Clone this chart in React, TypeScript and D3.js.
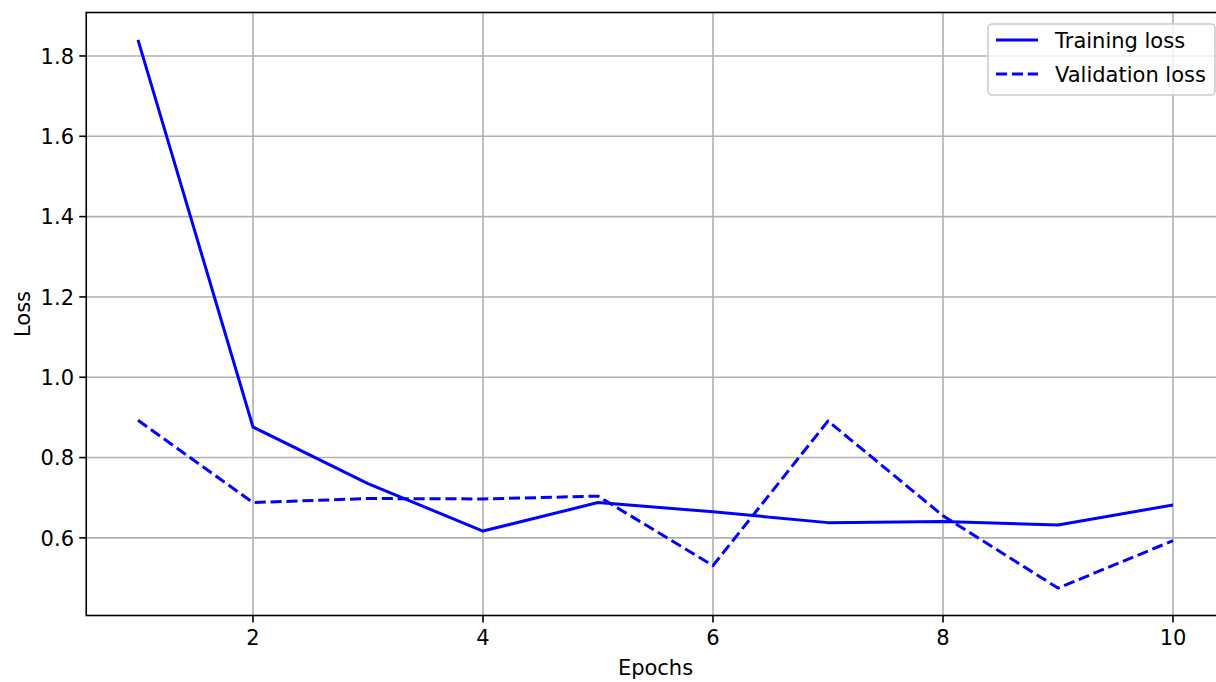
import React from "react";
import * as d3 from "d3";

const epochs = [1, 2, 3, 4, 5, 6, 7, 8, 9, 10];
const trainingLoss = [1.84, 0.876, 0.735, 0.617, 0.688, 0.665, 0.638, 0.641, 0.632, 0.682];
const validationLoss = [0.893, 0.688, 0.698, 0.697, 0.704, 0.531, 0.891, 0.655, 0.475, 0.593];
const xTicks = [2, 4, 6, 8, 10];
const yTicks = [0.6, 0.8, 1.0, 1.2, 1.4, 1.6, 1.8];
const seriesNames = ["Training loss", "Validation loss"];

const W = 1216;
const H = 682;
const FONT = "DejaVu Sans, sans-serif";
const FS = 21;

export default function App() {
  const left = 86.25;
  const right = 1224.75;
  const top = 12.5;
  const bottom = 615.5;

  const xMin = d3.min(epochs)!;
  const xMax = d3.max(epochs)!;
  const xPad = (xMax - xMin) * 0.05;
  const all = [...trainingLoss, ...validationLoss];
  const yMin = d3.min(all)!;
  const yMax = d3.max(all)!;
  const yPad = (yMax - yMin) * 0.05;

  const x = d3.scaleLinear().domain([xMin - xPad, xMax + xPad]).range([left, right]);
  const y = d3.scaleLinear().domain([yMin - yPad, yMax + yPad]).range([bottom, top]);

  const line = d3
    .line<number>()
    .x((_, i) => x(epochs[i]))
    .y((d) => y(d));

  const blue = "#0000ff";
  const grid = "#b0b0b0";

  return (
    <svg
      width={W}
      height={H}
      style={{ position: "absolute", left: 0, top: 0, background: "#fff" }}
      fontFamily={FONT}
    >
      <rect x={0} y={0} width={W} height={H} fill="#fff" />
      <defs>
        <clipPath id="plotclip">
          <rect x={left} y={top} width={right - left} height={bottom - top} />
        </clipPath>
      </defs>
      {xTicks.map((t) => (
        <line key={"gx" + t} x1={x(t)} x2={x(t)} y1={top} y2={bottom} stroke={grid} strokeWidth={1.6} />
      ))}
      {yTicks.map((t) => (
        <line key={"gy" + t} x1={left} x2={right} y1={y(t)} y2={y(t)} stroke={grid} strokeWidth={1.6} />
      ))}
      <g clipPath="url(#plotclip)">
        <path d={line(trainingLoss) || ""} fill="none" stroke={blue} strokeWidth={3} strokeLinejoin="round" />
        <path
          d={line(validationLoss) || ""}
          fill="none"
          stroke={blue}
          strokeWidth={3}
          strokeDasharray="11.1 4.8"
          strokeLinejoin="round"
        />
      </g>
      <rect x={left} y={top} width={right - left} height={bottom - top} fill="none" stroke="#000" strokeWidth={1.6} />
      {xTicks.map((t) => (
        <g key={"xt" + t}>
          <line x1={x(t)} x2={x(t)} y1={bottom} y2={bottom + 7} stroke="#000" strokeWidth={1.6} />
          <text x={x(t)} y={645} textAnchor="middle" fontSize={FS} fill="#000">
            {String(t)}
          </text>
        </g>
      ))}
      {yTicks.map((t) => (
        <g key={"yt" + t}>
          <line x1={left - 7} x2={left} y1={y(t)} y2={y(t)} stroke="#000" strokeWidth={1.6} />
          <text x={74} y={y(t) + 7.8} textAnchor="end" fontSize={FS} fill="#000">
            {t.toFixed(1)}
          </text>
        </g>
      ))}
      <text x={(left + right) / 2} y={675} textAnchor="middle" fontSize={FS} fill="#000">
        Epochs
      </text>
      <text
        transform={`translate(30, ${(top + bottom) / 2}) rotate(-90)`}
        textAnchor="middle"
        fontSize={FS}
        fill="#000"
      >
        Loss
      </text>
      <g>
        <rect x={988} y={24} width={227} height={71} rx={4} ry={4} fill="#fff" fillOpacity={0.8} stroke="#cccccc" strokeWidth={1.6} />
        {seriesNames.map((name, i) => {
          const cy = 40 + i * 34;
          return (
            <g key={name}>
              <line
                x1={996}
                x2={1038}
                y1={cy}
                y2={cy}
                stroke={blue}
                strokeWidth={3}
                strokeDasharray={i === 1 ? "11.1 4.8" : undefined}
              />
              <text x={1055} y={cy + 7.5} fontSize={FS} fill="#000">
                {name}
              </text>
            </g>
          );
        })}
      </g>
    </svg>
  );
}
